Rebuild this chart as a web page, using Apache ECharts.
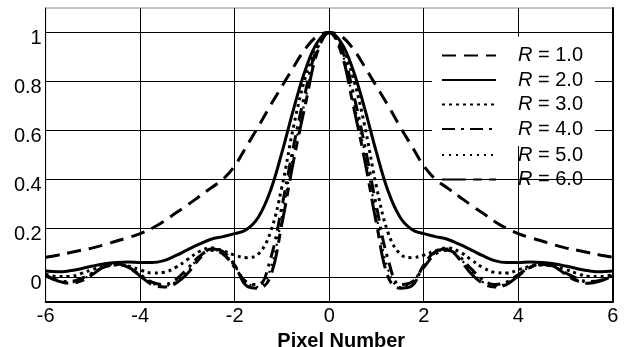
<!DOCTYPE html>
<html>
<head>
<meta charset="utf-8">
<script src="https://cdn.jsdelivr.net/npm/echarts@6/dist/echarts.min.js"></script>
<style>
  html, body { margin: 0; padding: 0; background: #fff; }
  #chart { width: 629px; height: 347px; }
</style>
</head>
<body>
<div id="chart"></div>
<script>
// pixel positions along the x axis (step 0.25)
var xValues = [
  -6, -5.75, -5.5, -5.25, -5, -4.75, -4.5, -4.25, -4, -3.75, -3.5, -3.25,
  -3, -2.75, -2.5, -2.25, -2, -1.75, -1.5, -1.25, -1, -0.75, -0.5, -0.25,
  0, 0.25, 0.5, 0.75, 1, 1.25, 1.5, 1.75, 2, 2.25, 2.5, 2.75,
  3, 3.25, 3.5, 3.75, 4, 4.25, 4.5, 4.75, 5, 5.25, 5.5, 5.75, 6
];

var r1 = [0.082,0.09,0.10,0.11,0.12,0.133,0.148,0.162,0.178,0.20,0.228,0.262,
  0.295,0.33,0.365,0.40,0.455,0.535,0.615,0.70,0.78,0.86,0.935,0.985,
  1.0,
  0.985,0.935,0.86,0.78,0.70,0.615,0.535,0.455,0.40,0.365,0.33,0.295,
  0.262,0.228,0.20,0.178,0.162,0.148,0.133,0.12,0.11,0.10,0.09,0.082];

var r2 = [0.025,0.022,0.026,0.035,0.046,0.055,0.06,0.062,0.06,0.06,0.068,0.088,
  0.112,0.135,0.155,0.166,0.178,0.195,0.245,0.35,0.51,0.69,0.85,0.96,
  1.0,
  0.96,0.85,0.69,0.51,0.35,0.245,0.195,0.178,0.166,0.155,0.135,0.112,
  0.088,0.068,0.06,0.06,0.062,0.06,0.055,0.046,0.035,0.026,0.022,0.025];

var r3 = [0.012,0.003,0.003,0.015,0.032,0.045,0.05,0.045,0.03,0.017,0.02,0.04,
  0.072,0.105,0.12,0.108,0.09,0.08,0.095,0.18,0.37,0.62,0.82,0.95,
  1.0,
  0.95,0.82,0.62,0.37,0.18,0.095,0.08,0.09,0.108,0.12,0.105,0.072,
  0.04,0.02,0.017,0.03,0.045,0.05,0.045,0.032,0.015,0.003,0.003,0.012];

var r4 = [0.008,-0.012,-0.018,-0.005,0.018,0.042,0.052,0.04,0.01,-0.02,-0.03,-0.01,
  0.035,0.085,0.11,0.095,0.04,-0.02,-0.03,0.07,0.29,0.54,0.76,0.94,
  1.0,
  0.94,0.76,0.54,0.29,0.07,-0.03,-0.02,0.04,0.095,0.11,0.085,0.035,
  -0.01,-0.03,-0.02,0.01,0.04,0.052,0.042,0.018,-0.005,-0.018,-0.012,0.008];

var r5 = [0.005,-0.015,-0.022,-0.01,0.015,0.045,0.055,0.042,0.01,-0.025,-0.035,-0.02,
  0.025,0.08,0.112,0.10,0.045,-0.02,-0.04,0.03,0.25,0.51,0.73,0.93,
  1.0,
  0.93,0.73,0.51,0.25,0.03,-0.04,-0.02,0.045,0.10,0.112,0.08,0.025,
  -0.02,-0.035,-0.025,0.01,0.042,0.055,0.045,0.015,-0.01,-0.022,-0.015,0.005];

var r6 = [0.005,-0.015,-0.025,-0.015,0.012,0.045,0.055,0.04,0.005,-0.03,-0.04,-0.025,
  0.015,0.075,0.115,0.105,0.05,-0.035,-0.045,0.0,0.22,0.48,0.71,0.92,
  1.0,
  0.92,0.71,0.48,0.22,0.0,-0.045,-0.035,0.05,0.105,0.115,0.075,0.015,
  -0.025,-0.04,-0.03,0.005,0.04,0.055,0.045,0.012,-0.015,-0.025,-0.015,0.005];

var seriesNames = ["R = 1.0", "R = 2.0", "R = 3.0", "R = 4.0", "R = 5.0", "R = 6.0"];
var yTicks = [0, 0.2, 0.4, 0.6, 0.8, 1];
var xTicks = [-6, -4, -2, 0, 2, 4, 6];

var FONT = "Liberation Sans";

function pairs(ys) {
  return xValues.map(function (x, i) { return [x, ys[i]]; });
}

var styles = [
  { width: 3, type: [14, 8] },
  { width: 3, type: "solid" },
  { width: 3, type: [3, 4] },
  { width: 3, type: [13, 6, 3, 6] },
  { width: 2.2, type: [2, 5] },
  { width: 3, type: [24, 7, 9, 7] }
];
var allData = [r1, r2, r3, r4, r5, r6];

var series = allData.map(function (d, i) {
  return {
    name: seriesNames[i],
    type: "line",
    data: pairs(d),
    smooth: 0.4,
    symbol: "none",
    lineStyle: { color: "#000", width: styles[i].width, type: styles[i].type, cap: "butt" },
    itemStyle: { color: "#000" },
    z: 3
  };
});

// horizontal grid lines at the labelled ticks
series[0].markLine = {
  silent: true,
  symbol: "none",
  label: { show: false },
  lineStyle: { color: "#000", width: 1, type: "solid" },
  data: yTicks.map(function (v) { return { yAxis: v }; }),
  z: 1
};

var legendText = {
  fontFamily: FONT,
  fontSize: 20,
  color: "#000",
  lineHeight: 20,
  padding: [0, 0, 0, 17],
  rich: {
    i: { fontFamily: FONT, fontSize: 20, fontStyle: "italic", color: "#000" }
  }
};
function legendFmt(name) {
  return "{i|R}" + name.slice(1);
}
// hide the marker dot that line legends draw by default
var noDot = { color: "rgba(0,0,0,0)", borderColor: "rgba(0,0,0,0)", borderWidth: 0, opacity: 0 };

var option = {
  animation: false,
  backgroundColor: "#fff",
  grid: {
    left: 45.7,
    right: 16.3,
    top: 8,
    bottom: 45.3,
    outerBoundsMode: "none",
    containLabel: false,
    show: true,
    borderColor: "#8a8a8a",
    borderWidth: 1
  },
  legend: [
    {
      data: seriesNames.slice(0, 4),
      orient: "vertical",
      left: 432,
      top: 36.5,
      itemWidth: 54,
      itemHeight: 14,
      itemGap: 4.5,
      padding: [9, 12, 7, 9],
      backgroundColor: "#fff",
      itemStyle: noDot,
      formatter: legendFmt,
      textStyle: legendText,
      selectedMode: false
    },
    {
      data: seriesNames.slice(4),
      orient: "vertical",
      left: 441,
      top: 145,
      itemWidth: 54,
      itemHeight: 14,
      itemGap: 4.5,
      padding: 0,
      itemStyle: noDot,
      formatter: legendFmt,
      textStyle: legendText,
      selectedMode: false
    }
  ],
  xAxis: {
    type: "value",
    min: -6,
    max: 6,
    interval: 2,
    name: "Pixel Number",
    nameLocation: "middle",
    nameGap: 21,
    nameTextStyle: {
      fontFamily: FONT,
      fontSize: 20,
      fontWeight: "bold",
      color: "#000",
      padding: [0, 0, 0, 24]
    },
    axisLine: { show: true, onZero: false, lineStyle: { color: "#000", width: 2 } },
    axisTick: { show: false },
    axisLabel: {
      fontFamily: FONT,
      fontSize: 20,
      color: "#000",
      margin: 5,
      formatter: function (v) { return xTicks.indexOf(v) >= 0 ? String(v) : ""; }
    },
    splitLine: { show: true, lineStyle: { color: "#000", width: 1 } }
  },
  yAxis: [
    {
      type: "value",
      min: -0.1,
      max: 1.1,
      interval: 0.1,
      axisLine: { show: true, onZero: false, lineStyle: { color: "#000", width: 1 } },
      axisTick: { show: false },
      axisLabel: {
        fontFamily: FONT,
        fontSize: 20,
        color: "#000",
        margin: 4,
        verticalAlign: "top",
        lineHeight: 12,
        formatter: function (v) {
          var k = Math.round(v * 10) / 10;
          for (var i = 0; i < yTicks.length; i++) {
            if (Math.abs(yTicks[i] - k) < 1e-6) return String(yTicks[i]);
          }
          return "";
        }
      },
      splitLine: { show: false }
    },
    {
      type: "value",
      position: "right",
      min: -0.1,
      max: 1.1,
      interval: 0.1,
      axisLine: { show: true, onZero: false, lineStyle: { color: "#000", width: 2 } },
      axisTick: { show: false },
      axisLabel: { show: false },
      splitLine: { show: false }
    }
  ],
  series: series
};

var chart = echarts.init(document.getElementById("chart"), null, { renderer: "canvas" });
chart.setOption(option);
</script>
</body>
</html>
